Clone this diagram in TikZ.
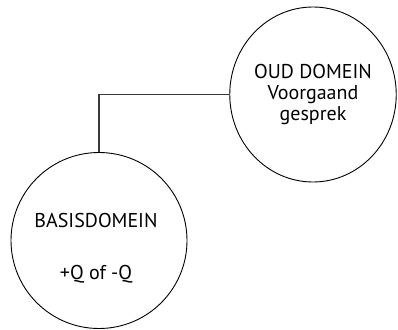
\documentclass[tikz,border=0pt]{standalone}
\usepackage{fontspec}
\setmainfont{PT Sans}
\usetikzlibrary{shapes.geometric}
\definecolor{LinkGray}{HTML}{3A3A3A}
\tikzset{
  domainbox/.style={
    draw=black, line width=0.9pt, align=center, font=\fontsize{20}{21}\selectfont,
    inner sep=0pt
  },
  link/.style={LinkGray, line width=1.1pt},
}

\begin{document}
\begin{tikzpicture}[x=1pt, y=-1pt]
    \useasboundingbox (0,0) rectangle (398,329);
    \node[domainbox, ellipse, minimum width=165pt, minimum height=175pt] (oud) at (313,94.5) {OUD DOMEIN\\Voorgaand\\gesprek};
    \node[domainbox, circle, minimum size=176pt] (basis) at (99,240.5) {};
    \node[font=\fontsize{20}{21}\selectfont, align=center] (basistxt) at (96,248) {BASISDOMEIN\\[31pt]+Q of -Q};
    \draw[link] (oud.west) -| (basis.north);
  \end{tikzpicture}
\end{document}
